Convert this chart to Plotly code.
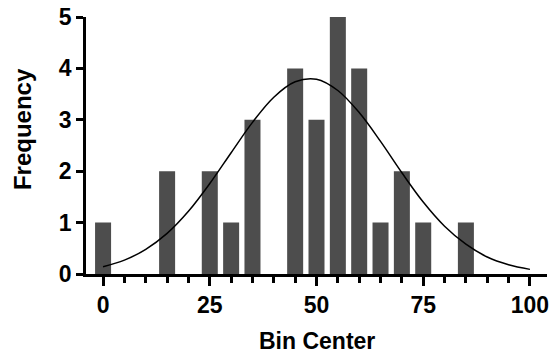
import plotly.graph_objects as go

bin_centers = [0, 15, 25, 30, 35, 45, 50, 55, 60, 65, 70, 75, 85]
frequency = [1, 2, 2, 1, 3, 4, 3, 5, 4, 1, 2, 1, 1]

curve_x = [0, 5, 10, 15, 20, 25, 30, 35, 40, 45, 50, 55, 60, 65, 70, 75, 80, 85, 90, 95, 100]
curve_y = [0.14, 0.27, 0.48, 0.79, 1.22, 1.76, 2.36, 2.95, 3.44, 3.74, 3.79, 3.57, 3.14,
           2.58, 1.97, 1.40, 0.93, 0.58, 0.33, 0.18, 0.09]

x_ticks = [0, 25, 50, 75, 100]
y_ticks = [0, 1, 2, 3, 4, 5]
x_title = "Bin Center"
y_title = "Frequency"

fig = go.Figure()
fig.add_trace(go.Bar(x=bin_centers, y=frequency, width=3.75,
                     marker=dict(color="#4d4d4d", line=dict(width=0)),
                     showlegend=False))
fig.add_trace(go.Scatter(x=curve_x, y=curve_y, mode="lines",
                         line=dict(color="black", width=1.5, shape="spline"),
                         showlegend=False))

font_family = "Liberation Sans, Arial, sans-serif"
fig.update_layout(
    width=553, height=355,
    margin=dict(l=86, r=6, t=17, b=81),
    plot_bgcolor="white", paper_bgcolor="white",
    font=dict(family=font_family, color="black"),
    xaxis=dict(range=[-4, 104], tickvals=x_ticks, ticks="outside", ticklen=9, tickwidth=2.5,
               tickcolor="black", showline=True, linecolor="black", linewidth=2.5,
               showgrid=False, zeroline=False, automargin=False,
               tickfont=dict(size=23, family=font_family, weight="bold"),
               minor=dict(dtick=5, tick0=0, ticks="outside", ticklen=6, tickwidth=2.5,
                          tickcolor="black", showgrid=False)),
    yaxis=dict(range=[0, 5], tickvals=y_ticks, ticks="outside", ticklen=7, tickwidth=2.5,
               tickcolor="black", showline=True, linecolor="black", linewidth=2.5,
               showgrid=False, zeroline=False, automargin=False,
               tickfont=dict(size=23, family=font_family, weight="bold")),
    annotations=[
        dict(text="<b>" + x_title + "</b>", xref="paper", yref="paper", x=0.5, y=-0.262,
             xanchor="center", yanchor="middle", showarrow=False, borderpad=0,
             font=dict(size=23, family=font_family, color="black")),
        dict(text="<b>" + y_title + "</b>", xref="paper", yref="paper", x=-0.1388, y=0.564,
             xanchor="center", yanchor="middle", textangle=-90, showarrow=False,
             font=dict(size=24, family=font_family, color="black")),
    ],
)

fig.write_html("out.html", config={"displayModeBar": False},
               post_script="document.body.style.margin='0';document.body.style.overflow='hidden';")
